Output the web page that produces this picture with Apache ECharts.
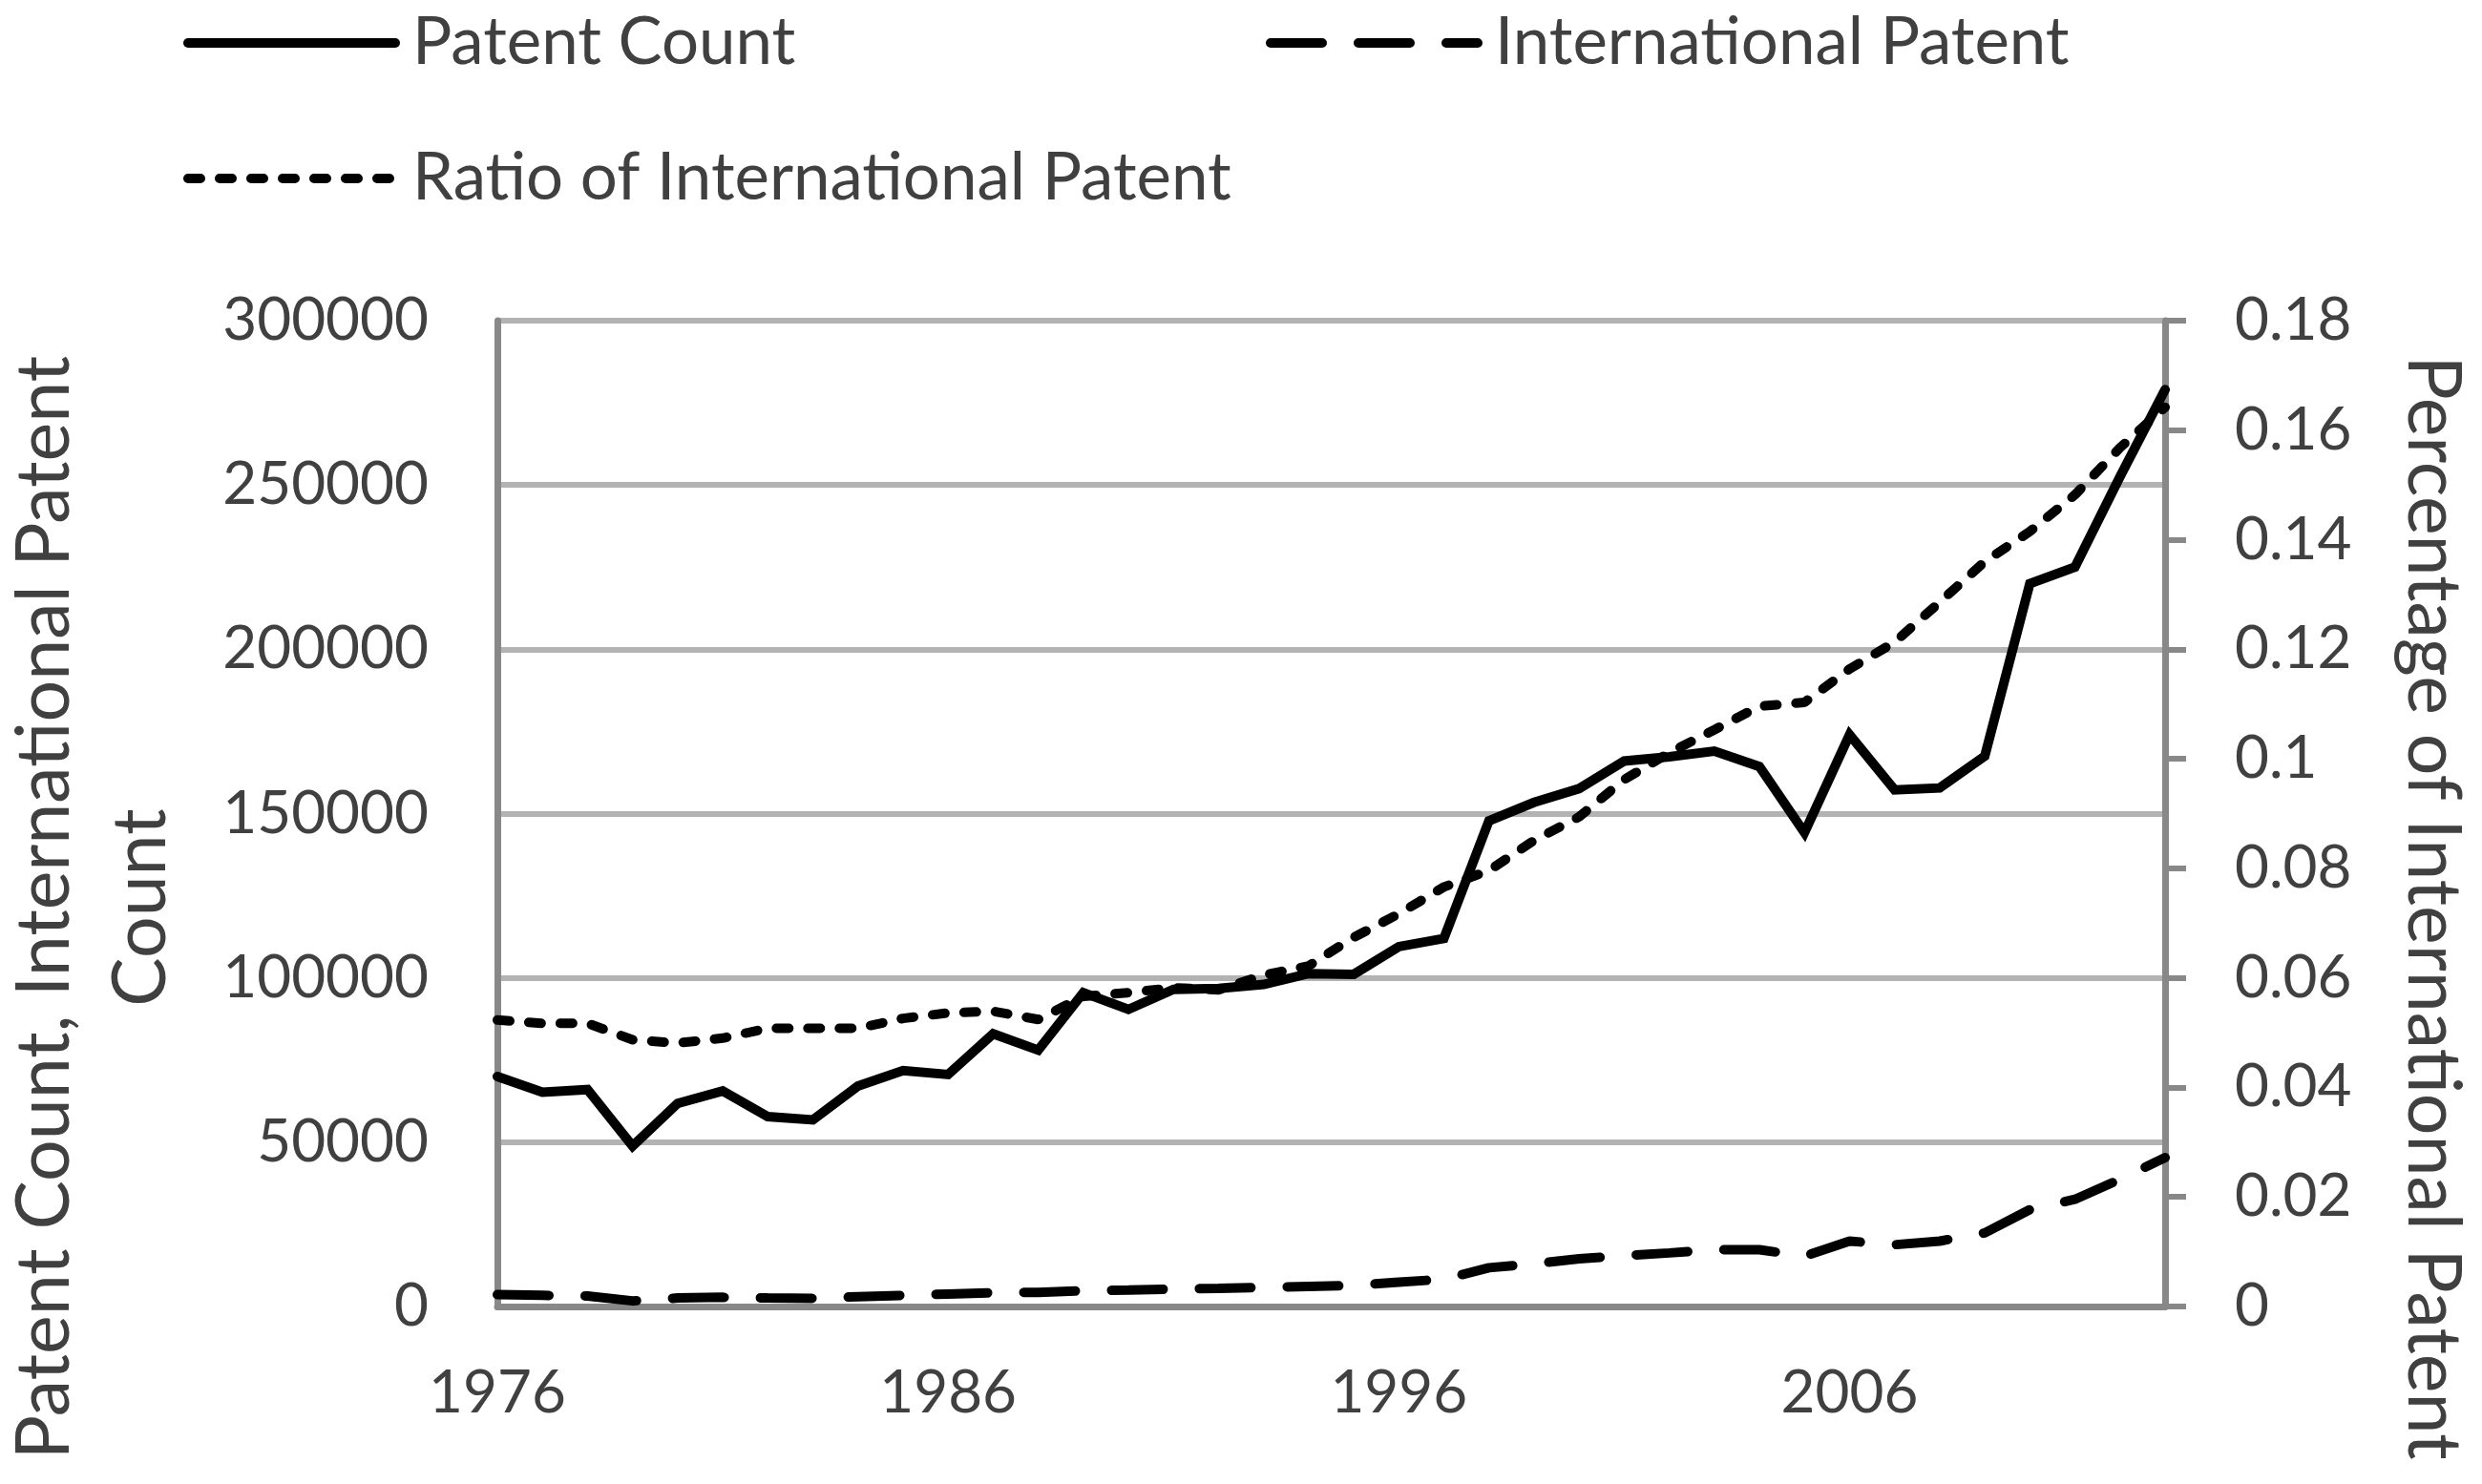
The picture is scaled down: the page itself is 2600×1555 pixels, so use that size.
<!DOCTYPE html>
<html>
<head>
<meta charset="utf-8">
<script src="https://cdn.jsdelivr.net/npm/echarts@6/dist/echarts.min.js"></script>
<style>
html,body{margin:0;padding:0;background:#fff;}
#chart{width:2600px;height:1555px;}
</style>
</head>
<body>
<div id="chart"></div>
<script>
const years = [];
for (let y = 1976; y <= 2013; y++) years.push(String(y));

const patentCount = [70000, 65200, 66000, 48800, 61800, 65600, 57800, 56800, 67100, 71800,
  70600, 83000, 78000, 95500, 90400, 96500, 96800, 98000, 101300, 101100,
  109500, 112000, 147800, 153400, 157600, 166000, 167300, 169000, 164300, 144200,
  174000, 157200, 157800, 167500, 220000, 225000, 252500, 279000];

const internationalPatent = [3600, 3400, 3200, 1700, 2600, 2800, 2600, 2500, 3000, 3400,
  3800, 4200, 4300, 4800, 5000, 5300, 5500, 5800, 6100, 6400,
  7400, 8300, 11800, 13000, 14500, 15500, 16300, 17300, 17300, 15300,
  19900, 18800, 19900, 22400, 29500, 32600, 38700, 45300];

const ratioInternational = [0.0523, 0.0517, 0.0517, 0.0487, 0.0481, 0.0490, 0.0508, 0.0508, 0.0508, 0.0526,
  0.0536, 0.0539, 0.0524, 0.0566, 0.0573, 0.0582, 0.0578, 0.0605, 0.0622, 0.0674,
  0.0717, 0.0766, 0.0796, 0.0851, 0.0894, 0.0962, 0.1011, 0.1053, 0.1096, 0.1103,
  0.1164, 0.1213, 0.1286, 0.1360, 0.1415, 0.1482, 0.1568, 0.1642];

const leftTitle = 'Patent Count, International Patent\nCount';
const rightTitle = 'Percentage of International Patent';

const FONT = 'Lato';
const TXT = '#404040';
const AXIS = '#888888';
const GRID = '#b3b3b3';

const chart = echarts.init(document.getElementById('chart'), null, {renderer: 'canvas'});

const legendBase = {
  orient: 'horizontal',
  itemWidth: 217,
  itemHeight: 4,
  textStyle: {fontFamily: FONT, fontSize: 69, color: TXT, lineHeight: 76, padding: [0, 0, 0, 13]},
  lineStyle: {width: 10, cap: 'round'},
  itemStyle: {color: '#000', borderWidth: 0},
  selectedMode: false
};

chart.setOption({
  animation: false,
  backgroundColor: '#ffffff',
  legend: [
    Object.assign({}, legendBase, {data: ['Patent Count'], left: 187, top: 2}),
    Object.assign({}, legendBase, {data: ['International Patent'], left: 1321, top: 2}),
    Object.assign({}, legendBase, {data: ['Ratio of International Patent'], left: 187, top: 144})
  ],
  grid: {left: 521, right: 332, top: 336, bottom: 186, containLabel: false, outerBoundsMode: 'none'},
  xAxis: {
    type: 'category',
    data: years,
    boundaryGap: false,
    axisLine: {show: true, lineStyle: {color: AXIS, width: 7}},
    axisTick: {show: false},
    axisLabel: {interval: 9, margin: 60, fontFamily: FONT, fontSize: 62, color: TXT, lineHeight: 62},
    splitLine: {show: false}
  },
  yAxis: [
    {
      type: 'value',
      position: 'left',
      min: 0, max: 300000, interval: 50000,
      axisLine: {show: true, lineStyle: {color: AXIS, width: 7}},
      axisTick: {show: false},
      axisLabel: {margin: 72, fontFamily: FONT, fontSize: 62, color: TXT, formatter: function (v) { return String(v); }},
      splitLine: {show: true, lineStyle: {color: GRID, width: 6}}
    },
    {
      type: 'value',
      position: 'right',
      min: 0, max: 0.18, interval: 0.02,
      axisLine: {show: true, lineStyle: {color: AXIS, width: 7}},
      axisTick: {show: true, inside: false, length: 22, lineStyle: {color: AXIS, width: 6}},
      axisLabel: {margin: 73, fontFamily: FONT, fontSize: 62, color: TXT},
      splitLine: {show: false}
    }
  ],
  graphic: [
    {
      type: 'text', x: 98, y: 951, rotation: Math.PI / 2,
      style: {text: leftTitle, font: '77px ' + FONT, fill: TXT, align: 'center', verticalAlign: 'middle',
        textAlign: 'center', textVerticalAlign: 'middle', lineHeight: 101}
    },
    {
      type: 'text', x: 2548, y: 951, rotation: -Math.PI / 2,
      style: {text: rightTitle, font: '77px ' + FONT, fill: TXT, align: 'center', verticalAlign: 'middle',
        textAlign: 'center', textVerticalAlign: 'middle'}
    }
  ],
  series: [
    {
      name: 'Patent Count', type: 'line', yAxisIndex: 0, data: patentCount,
      symbol: 'none', showSymbol: false,
      lineStyle: {color: '#000', width: 10, type: 'solid', join: 'miter', cap: 'round'},
      itemStyle: {color: '#000'}
    },
    {
      name: 'International Patent', type: 'line', yAxisIndex: 0, data: internationalPatent,
      symbol: 'none', showSymbol: false,
      lineStyle: {color: '#000', width: 10, type: [54, 38], cap: 'round'},
      itemStyle: {color: '#000'}
    },
    {
      name: 'Ratio of International Patent', type: 'line', yAxisIndex: 1, data: ratioInternational,
      symbol: 'none', showSymbol: false,
      lineStyle: {color: '#000', width: 10, type: [13, 20], cap: 'round'},
      itemStyle: {color: '#000'}
    }
  ]
});
</script>
</body>
</html>
